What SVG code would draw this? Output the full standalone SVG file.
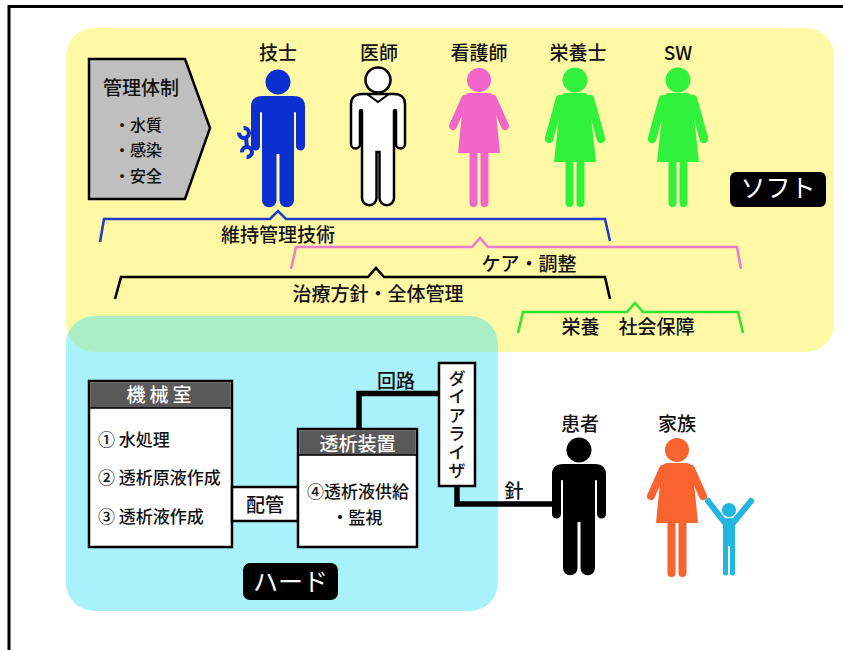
<svg xmlns="http://www.w3.org/2000/svg" xmlns:xlink="http://www.w3.org/1999/xlink" width="843" height="650" viewBox="0 0 843 650">
  <style>
    text { font-family: "Noto Sans CJK JP", "Noto Sans", sans-serif; fill: #111; font-weight: 500; }
    .lbl { font-size: 19px; text-anchor: middle; }
    .item { font-size: 16px; }
    .box { fill: #fff; stroke: #000; stroke-width: 2.5; }
    .head { fill: #595959; }
    .hd { font-size: 19px; fill: #fff; text-anchor: middle; }
    .bt { font-size: 17px; }
    .vert { font-size: 17.5px; writing-mode: vertical-rl; text-anchor: middle; letter-spacing: 1px; }
    .tag { fill: #000; }
    .tagt { font-size: 25px; fill: #fff; text-anchor: middle; font-weight: 400; }
    .br { fill: none; stroke-width: 2.6; stroke-linejoin: miter; }
    .pipe { fill: none; stroke: #000; stroke-width: 5.5; stroke-linejoin: miter; }
    .f { fill: currentColor; }
    .s { fill: none; stroke: currentColor; stroke-linecap: round; }
  </style>
  <defs>
    <!-- man pictogram, head centre at origin -->
    <g id="man">
      <circle r="12.5" class="f"/>
      <path class="f" d="M-16,14 H16 C23,14 27,18 27,24 V64 A4.5,4.5 0 0 1 18,64 V31 A1,1 0 0 0 16,31 V118 A7.25,7.25 0 0 1 1.5,118 V72 H-1.5 V118 A7.25,7.25 0 0 1 -16,118 V31 A1,1 0 0 0 -18,31 V64 A4.5,4.5 0 0 1 -27,64 V24 C-27,18 -23,14 -16,14 Z"/>
    </g>
    <!-- woman pictogram, short dress -->
    <g id="womanA">
      <circle r="12" class="f"/>
      <path class="f" d="M-9,13 H9 Q14,13 15.5,18 L21,73 H-21 L-15.5,18 Q-14,13 -9,13 Z"/>
      <path class="s" stroke-width="8" d="M14,19 L26,46 M-14,19 L-26,46"/>
      <path class="s" stroke-width="8" d="M5.5,70 V123 M-5.5,70 V123"/>
    </g>
    <!-- woman pictogram, long dress -->
    <g id="womanB">
      <circle r="12.5" class="f"/>
      <path class="f" d="M-9,13 H9 Q13,13 14,18 L21,82 H-21 L-14,18 Q-13,13 -9,13 Z"/>
      <path class="s" stroke-width="8.5" d="M15,19 L26,59 M-15,19 L-26,59"/>
      <path class="s" stroke-width="8" d="M5.5,80 V123 M-5.5,80 V123"/>
    </g>
  </defs>

  <rect width="843" height="650" fill="#fff"/>
  <path d="M9,650 V6.5 H843" fill="none" stroke="#000" stroke-width="3"/>

  <!-- areas -->
  <g id="soft-area">
    <rect x="66" y="28" width="768" height="324" rx="28" fill="#fff9a6"/>
  </g>
  <g id="hard-area">
    <rect x="66" y="316" width="432" height="295" rx="28" fill="rgb(48,223,245)" fill-opacity="0.41"/>
  </g>

  <!-- connectors: brackets and lines -->
  <g id="connectors">
    <polyline class="br" stroke="#1f3fc4" points="100,242 104,219 270,219 278,211 286,219 605,219 610,241"/>
    <polyline class="br" stroke="#f07cc8" points="291,269 296,247 472,247 480,238 488,247 737,247 741,269"/>
    <polyline class="br" stroke="#000" points="115,299 121,277 368,277 376,268 384,277 605,277 610,299"/>
    <polyline class="br" stroke="#33e533" points="518,333 523,312 627,312 635,303 643,312 738,312 743,333"/>
    <path class="pipe" d="M359,429 V393.5 H439"/>
    <path class="pipe" d="M457,486 V504 H553"/>
  </g>

  <!-- bracket labels -->
  <g id="labels">
    <text class="lbl" x="278" y="241.5">維持管理技術</text>
    <text class="lbl" x="529" y="270.5">ケア・調整</text>
    <text class="lbl" x="378" y="300.5">治療方針・全体管理</text>
    <text class="lbl" x="628" y="333.5">栄養　社会保障</text>
    <text class="lbl" x="396" y="387.5">回路</text>
    <text class="lbl" x="514" y="497.5">針</text>
  </g>

  <!-- management block -->
  <g id="management">
    <polygon points="89,59 185,59 210,128 185,199 89,199" fill="#bfbfbf" stroke="#000" stroke-width="2.5"/>
    <text class="lbl" x="141" y="94.5">管理体制</text>
    <text class="item" x="114" y="130.5">・水質</text>
    <text class="item" x="114" y="155.5">・感染</text>
    <text class="item" x="114" y="181.5">・安全</text>
  </g>

  <!-- staff -->
  <g id="technician">
    <text class="lbl" x="278" y="59.5">技士</text>
    <use xlink:href="#man" href="#man" transform="translate(278,82)" color="#0b2fd1"/>
    <g fill="none" stroke="#0b2fd1" stroke-width="4">
      <path d="M243.6,128 A5,5 0 1 1 239,132.6"/>
      <path d="M242,152.4 A5,5 0 1 1 246.6,157"/>
      <path d="M246,137 L247,148"/>
    </g>
  </g>
  <g id="doctor">
    <text class="lbl" x="379" y="59.5">医師</text>
    <use xlink:href="#man" href="#man" transform="translate(378,80)" color="#fff" stroke="#000" stroke-width="2.5"/>
    <path d="M367,94 L378,102 L389,94" fill="none" stroke="#000" stroke-width="2"/>
  </g>
  <g id="nurse">
    <text class="lbl" x="479" y="59.5">看護師</text>
    <use xlink:href="#womanA" href="#womanA" transform="translate(479,80)" color="#f266cc"/>
  </g>
  <g id="dietitian">
    <text class="lbl" x="578" y="59.5">栄養士</text>
    <use xlink:href="#womanB" href="#womanB" transform="translate(575,80)" color="#30f23c"/>
  </g>
  <g id="sw">
    <text class="lbl" x="678" y="59.5">SW</text>
    <use xlink:href="#womanB" href="#womanB" transform="translate(678,80)" color="#30f23c"/>
  </g>
  <g id="soft-tag">
    <rect class="tag" x="730" y="172" width="96" height="35" rx="6"/>
    <text class="tagt" x="778" y="196.5">ソフト</text>
  </g>

  <!-- hardware -->
  <g id="machine-room">
    <rect class="box" x="89" y="381" width="143" height="166"/>
    <rect class="head" x="90.25" y="382.25" width="140.5" height="26"/>
    <line x1="89" y1="408" x2="232" y2="408" stroke="#000" stroke-width="1.5"/>
    <text class="hd" x="161" y="401.5" font-size="18" letter-spacing="4">機械室</text>
    <text class="bt" x="98" y="446">① 水処理</text>
    <text class="bt" x="98" y="484">② 透析原液作成</text>
    <text class="bt" x="98" y="523">③ 透析液作成</text>
  </g>
  <g id="piping">
    <rect class="box" x="232" y="487" width="66" height="34"/>
    <text class="lbl" x="265" y="512" font-size="20">配管</text>
  </g>
  <g id="dialysis-unit">
    <rect class="box" x="298" y="429" width="119" height="118"/>
    <rect class="head" x="299.25" y="430.25" width="116.5" height="25"/>
    <line x1="298" y1="455" x2="417" y2="455" stroke="#000" stroke-width="1.5"/>
    <text class="hd" x="357.5" y="450.5">透析装置</text>
    <text class="bt" x="307" y="498">④透析液供給</text>
    <text class="bt" x="357" y="524" text-anchor="middle">・監視</text>
  </g>
  <g id="dialyzer">
    <rect class="box" x="439" y="363" width="36" height="123"/>
    <text class="vert" x="457" y="425">ダイアライザ</text>
  </g>
  <g id="hard-tag">
    <rect class="tag" x="243" y="563" width="95" height="37" rx="7"/>
    <text class="tagt" x="290.5" y="591">ハード</text>
  </g>

  <!-- patient and family -->
  <g id="patient">
    <text class="lbl" x="580" y="431" font-size="20">患者</text>
    <use xlink:href="#man" href="#man" transform="translate(579,450)" color="#000"/>
  </g>
  <g id="family">
    <text class="lbl" x="677" y="431" font-size="20">家族</text>
    <use xlink:href="#womanA" href="#womanA" transform="translate(677,450)" color="#f86330"/>
    <g fill="#22b5dd" stroke="#22b5dd" stroke-linecap="round">
      <circle cx="729" cy="510" r="7" stroke="none"/>
      <rect x="723" y="518" width="12" height="28" rx="3" stroke="none"/>
      <path d="M725,523 L708,501 M733,523 L751,501" fill="none" stroke-width="6"/>
      <path d="M725.5,544 V573 M732.5,544 V573" fill="none" stroke-width="5"/>
    </g>
  </g>
</svg>
